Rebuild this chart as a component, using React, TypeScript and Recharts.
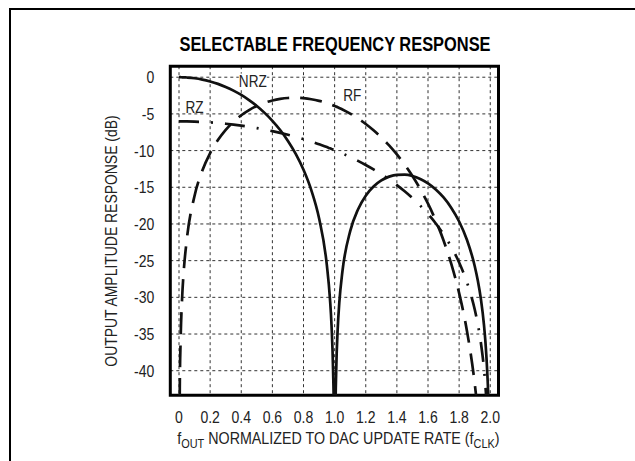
import React from 'react';
import { LineChart, Line, XAxis, YAxis, CartesianGrid, ReferenceArea, ReferenceDot } from 'recharts';

// f_OUT / f_CLK
const freq = [0, 0.005, 0.01, 0.02, 0.03, 0.05, 0.1, 0.15, 0.2, 0.25, 0.3, 0.35, 0.4, 0.45, 0.5, 0.55, 0.6, 0.65, 0.7, 0.75, 0.8, 0.85, 0.9, 0.95, 0.97, 0.98, 0.99, 0.995, 1.0, 1.005, 1.01, 1.02, 1.03, 1.05, 1.1, 1.15, 1.2, 1.25, 1.3, 1.35, 1.4, 1.45, 1.5, 1.55, 1.6, 1.65, 1.7, 1.75, 1.8, 1.85, 1.9, 1.92, 1.94, 1.96, 1.97, 1.98, 1.99, 2.0];

// NRZ response (dB)
const nrzDb = [0, 0, 0, -0.01, -0.01, -0.04, -0.14, -0.32, -0.58, -0.91, -1.33, -1.83, -2.42, -3.12, -3.92, -4.86, -5.94, -7.2, -8.69, -10.45, -12.62, -15.39, -19.23, -25.61, -30.21, -33.81, -39.92, -45.98, -80, -46.07, -40.09, -34.16, -30.73, -26.48, -20.97, -18.02, -16.14, -14.89, -14.06, -13.55, -13.3, -13.28, -13.46, -13.86, -14.46, -15.3, -16.39, -17.81, -19.66, -22.15, -25.72, -27.7, -30.24, -33.83, -36.37, -39.92, -45.98, -80];

// RZ response (dB)
const rzDb = [-6.02, -6.02, -6.02, -6.02, -6.02, -6.03, -6.06, -6.1, -6.16, -6.24, -6.34, -6.46, -6.6, -6.76, -6.93, -7.13, -7.35, -7.59, -7.85, -8.13, -8.44, -8.77, -9.14, -9.52, -9.69, -9.77, -9.86, -9.9, -9.94, -9.99, -10.03, -10.12, -10.21, -10.39, -10.88, -11.4, -11.96, -12.57, -13.22, -13.93, -14.71, -15.55, -16.48, -17.5, -18.64, -19.93, -21.41, -23.15, -25.25, -27.92, -31.63, -33.65, -36.23, -39.83, -42.37, -45.93, -52, -80];

// RF response (dB)
const rfDb = [-80, -42.1, -36.08, -30.06, -26.54, -22.12, -16.15, -12.72, -10.34, -8.57, -7.18, -6.08, -5.19, -4.49, -3.92, -3.49, -3.17, -2.95, -2.83, -2.8, -2.86, -3, -3.22, -3.53, -3.68, -3.76, -3.84, -3.88, -3.92, -3.97, -4.01, -4.1, -4.2, -4.4, -4.97, -5.62, -6.38, -7.24, -8.21, -9.3, -10.53, -11.91, -13.46, -15.23, -17.24, -19.55, -22.25, -25.47, -29.43, -34.54, -41.72, -45.67, -50.7, -57.85, -62.89, -69.97, -80, -80];

const xTicks = [0, 0.2, 0.4, 0.6, 0.8, 1.0, 1.2, 1.4, 1.6, 1.8, 2.0];
const yTicks = [0, -5, -10, -15, -20, -25, -30, -35, -40];
const xDomain = [-0.056, 2.053];
const yDomain = [-43.35, 1.5];

const data = freq.map((f, i) => ({ f, nrz: nrzDb[i], rz: rzDb[i], rf: rfDb[i] }));

const FONT = "'Liberation Sans', Arial, sans-serif";
const INK = '#111';
const TXT = '#222';
const NARROW = 0.85;

const XTick = (p: any) => {
  const v = p.payload?.value as number;
  const s = v === 0 ? '0' : v.toFixed(1);
  return (
    <g transform={`translate(${p.x},${p.y})`}>
      <text transform={`scale(${NARROW},1)`} x={0} y={0} dy="0.71em" textAnchor="middle" fontFamily={FONT} fontSize={16.5} fill={TXT}>{s}</text>
    </g>
  );
};

const YTick = (p: any) => {
  const v = p.payload?.value as number;
  return (
    <g transform={`translate(${p.x},${p.y})`}>
      <text transform={`scale(${NARROW},1)`} x={0} y={0} dy="0.36em" textAnchor="end" fontFamily={FONT} fontSize={16.5} fill={TXT}>{String(v)}</text>
    </g>
  );
};

const XTitle = (props: any) => {
  const vb = props.viewBox || { x: 0, width: 0 };
  const cx = vb.x + vb.width / 2 + 4;
  return (
    <g transform={`translate(${cx},444)`}>
      <text transform="scale(0.84,1)" x={0} y={0} textAnchor="middle" fontFamily={FONT} fontSize={17} fill={TXT} style={{ whiteSpace: 'pre' }}>
        f<tspan fontSize={13} dy={4}>OUT</tspan>
        <tspan dy={-4}> NORMALIZED TO DAC UPDATE RATE (f</tspan>
        <tspan fontSize={13} dy={4}>CLK</tspan>
        <tspan dy={-4}>)</tspan>
      </text>
    </g>
  );
};

const YTitle = () => (
  <g transform="translate(111,241) rotate(-90)">
    <text transform="scale(0.82,1)" x={0} y={0} textAnchor="middle" dominantBaseline="central" fontFamily={FONT} fontSize={17} fill={TXT}>
      OUTPUT AMPLITUDE RESPONSE (dB)
    </text>
  </g>
);

const makeTag = (text: string, boxW: number) => (p: any) => {
  const vb = p.viewBox || { x: 0, y: 0, width: 0, height: 0 };
  const cx = vb.x + (vb.width || 0) / 2;
  const cy = vb.y + (vb.height || 0) / 2;
  return (
    <g transform={`translate(${cx},${cy})`}>
      {boxW > 0 ? <rect x={-boxW / 2} y={-8} width={boxW} height={16} fill="#fff" /> : null}
      <text transform={`scale(${NARROW},1)`} x={0} y={0} dy="0.36em" textAnchor="middle" fontFamily={FONT} fontSize={16} fill={TXT}>{text}</text>
    </g>
  );
};

export default function App() {
  return (
    <div style={{ position: 'absolute', left: 0, top: 0, width: 635, height: 461, overflow: 'hidden', background: '#fff' }}>
      <div style={{ position: 'absolute', left: 9, top: 8, width: 700, height: 500, borderTop: '2px solid #000', borderLeft: '2px solid #000' }} />
      <div style={{ position: 'absolute', left: 135, top: 34, width: 400, textAlign: 'center', fontFamily: FONT, fontWeight: 'bold', fontSize: 20, lineHeight: '20px', color: '#000', whiteSpace: 'nowrap', transform: 'scaleX(0.82)', transformOrigin: '50% 50%' }}>
        SELECTABLE FREQUENCY RESPONSE
      </div>
      <div style={{ position: 'absolute', left: 0, top: 0 }}>
        <LineChart width={635} height={461} data={data} margin={{ top: 66.2, right: 136.5, bottom: 35.7, left: 110.3 }}>
          <CartesianGrid stroke="#333" strokeDasharray="3 3" strokeWidth={1} />
          <XAxis
            dataKey="f"
            type="number"
            domain={xDomain}
            ticks={xTicks}
            allowDataOverflow
            axisLine={false}
            tickLine={false}
            tickSize={0}
            tickMargin={16}
            height={30}
            interval={0}
            tick={<XTick />}
            label={{ content: XTitle }}
          />
          <YAxis
            type="number"
            domain={yDomain}
            ticks={yTicks}
            allowDataOverflow
            axisLine={false}
            tickLine={false}
            tickSize={0}
            tickMargin={16}
            width={60}
            interval={0}
            tick={<YTick />}
            label={{ content: YTitle }}
          />
          <Line dataKey="nrz" type="monotone" stroke={INK} strokeWidth={2.7} dot={false} activeDot={false} isAnimationActive={false} />
          <Line dataKey="rz" type="monotone" stroke={INK} strokeWidth={2.7} strokeDasharray="20 12 2 12" dot={false} activeDot={false} isAnimationActive={false} />
          <Line dataKey="rf" type="monotone" stroke={INK} strokeWidth={2.7} strokeDasharray="22 11" dot={false} activeDot={false} isAnimationActive={false} />
          <ReferenceArea x1={xDomain[0]} x2={xDomain[1]} y1={yDomain[0]} y2={yDomain[1]} fill="none" fillOpacity={0} stroke="#000" strokeWidth={3} ifOverflow="visible" />
          <ReferenceDot x={0.474} y={-0.6} r={1} fill="none" stroke="none" label={{ content: makeTag('NRZ', 28) }} />
          <ReferenceDot x={0.1} y={-4.07} r={1} fill="none" stroke="none" label={{ content: makeTag('RZ', 0) }} />
          <ReferenceDot x={1.114} y={-2.44} r={1} fill="none" stroke="none" label={{ content: makeTag('RF', 0) }} />
        </LineChart>
      </div>
    </div>
  );
}
